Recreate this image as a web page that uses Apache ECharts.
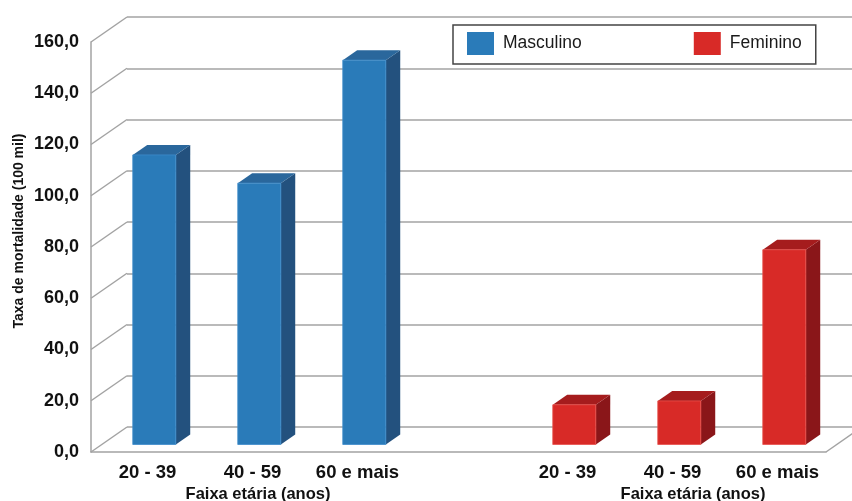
<!DOCTYPE html>
<html>
<head>
<meta charset="utf-8">
<script src="https://cdn.jsdelivr.net/npm/echarts@6/dist/echarts.min.js"></script>
<style>html,body{margin:0;padding:0;background:#fff}#c{width:852px;height:501px}</style>
</head>
<body>
<div id="c"></div>
<script>
const categories = ['20 - 39', '40 - 59', '60 e mais', '', '20 - 39', '40 - 59', '60 e mais'];
const maleValues = [113, 102, 150];
const femaleValues = [15.5, 17, 76];
const maleIdx = [0, 1, 2];
const femaleIdx = [4, 5, 6];
const yTicks = [0, 20, 40, 60, 80, 100, 120, 140, 160];
const axisTitle = 'Faixa etária (anos)';
const yTitle = 'Taxa de mortalidade (100 mil)';

const FONT = "'Liberation Sans', Arial, sans-serif";
const GRID_L = 91, GRID_T = 42, GRID_W = 735, GRID_H = 410;
const DX = 36, DY = -25;
const gridColor = '#a3a3a3';

const chart = echarts.init(document.getElementById('c'), null, {renderer: 'canvas'});

function barRender(colors) {
  return function (params, api) {
    const idx = api.value(0), v = api.value(1);
    const top = api.coord([idx, v]);
    const base = api.coord([idx, 0]);
    const band = api.size([1, 0])[0];
    const fw = band * 0.41;
    const offX = DX * 0.3, offY = DY * 0.3;
    const dX = DX * 0.4, dY = DY * 0.4;
    const xL = top[0] + offX - fw / 2, xR = xL + fw;
    const yT = top[1] + offY, yB = base[1] + offY;
    return {
      type: 'group',
      children: [
        {type: 'polygon', shape: {points: [[xR, yT], [xR + dX, yT + dY], [xR + dX, yB + dY], [xR, yB]]}, style: {fill: colors[2]}},
        {type: 'polygon', shape: {points: [[xL, yT], [xL + dX, yT + dY], [xR + dX, yT + dY], [xR, yT]]}, style: {fill: colors[1]}},
        {type: 'rect', shape: {x: xL, y: yT, width: fw, height: yB - yT}, style: {fill: colors[0], stroke: colors[3], lineWidth: 0.8}}
      ]
    };
  };
}

const blue = ['#2a7bb9', '#2a679c', '#23517e', '#3d8bcc'];
const red = ['#d82a27', '#a51c1d', '#8a1619', '#e8504c'];

chart.setOption({
  animation: false,
  backgroundColor: '#fff',
  grid: [
    {left: GRID_L, top: GRID_T, width: GRID_W, height: GRID_H},
    {left: GRID_L + DX, top: GRID_T + DY, width: GRID_W, height: GRID_H}
  ],
  legend: {
    left: 453, top: 25,
    padding: [7, 14, 9, 14],
    borderColor: '#444', borderWidth: 1.5,
    itemWidth: 27, itemHeight: 23, itemGap: 112,
    icon: 'rect',
    textStyle: {fontFamily: FONT, fontSize: 17.5, color: '#1a1a1a', padding: [0, 0, 0, 4]},
    data: ['Masculino', 'Feminino']
  },
  xAxis: [
    {
      type: 'category', gridIndex: 0, data: categories,
      axisLine: {show: true, lineStyle: {color: gridColor, width: 1.5}},
      axisTick: {show: false},
      axisLabel: {interval: 0, margin: 11, padding: [0, 0, 0, 8], fontFamily: FONT, fontWeight: 'bold', fontSize: 18.5, color: '#111'}
    },
    {type: 'category', gridIndex: 1, data: categories, show: false}
  ],
  yAxis: [
    {
      type: 'value', gridIndex: 0, min: 0, max: 160, interval: 20,
      axisLine: {show: true, lineStyle: {color: gridColor, width: 1.5}},
      axisTick: {show: false},
      splitLine: {show: false},
      axisLabel: {margin: 12, fontFamily: FONT, fontWeight: 'bold', fontSize: 18, color: '#111',
        formatter: v => v.toFixed(1).replace('.', ',')}
    },
    {
      type: 'value', gridIndex: 1, min: 0, max: 160, interval: 20,
      axisLine: {show: false}, axisTick: {show: false}, axisLabel: {show: false},
      splitLine: {show: true, lineStyle: {color: gridColor, width: 1.5}}
    }
  ],
  graphic: [
    {type: 'text', x: 19, y: 231, rotation: Math.PI / 2, style: {text: yTitle, font: 'bold 14px ' + FONT, fill: '#111', textAlign: 'center', textVerticalAlign: 'middle'}},
    {type: 'text', x: 258, y: 494, style: {text: axisTitle, font: 'bold 16.5px ' + FONT, fill: '#111', textAlign: 'center', textVerticalAlign: 'middle'}},
    {type: 'text', x: 693, y: 494, style: {text: axisTitle, font: 'bold 16.5px ' + FONT, fill: '#111', textAlign: 'center', textVerticalAlign: 'middle'}}
  ],
  series: [
    {
      type: 'custom', name: 'walls', xAxisIndex: 0, yAxisIndex: 0, z: 1, silent: true,
      data: yTicks.map(t => [0, t]),
      renderItem: function (params, api) {
        const cs = params.coordSys;
        const p = api.coord([0, api.value(1)]);
        const children = [
          {type: 'line', shape: {x1: cs.x, y1: p[1], x2: cs.x + DX, y2: p[1] + DY}, style: {stroke: gridColor, lineWidth: 1.5}}
        ];
        if (api.value(1) === 0) {
          children.push({type: 'line', shape: {x1: cs.x + cs.width, y1: p[1], x2: cs.x + cs.width + DX, y2: p[1] + DY}, style: {stroke: gridColor, lineWidth: 1.5}});
        }
        return {type: 'group', children: children};
      }
    },
    {
      type: 'custom', name: 'Masculino', xAxisIndex: 0, yAxisIndex: 0, z: 5,
      itemStyle: {color: blue[0]},
      data: maleIdx.map((i, k) => [i, maleValues[k]]),
      renderItem: barRender(blue)
    },
    {
      type: 'custom', name: 'Feminino', xAxisIndex: 0, yAxisIndex: 0, z: 5,
      itemStyle: {color: red[0]},
      data: femaleIdx.map((i, k) => [i, femaleValues[k]]),
      renderItem: barRender(red)
    }
  ]
});
</script>
</body>
</html>
